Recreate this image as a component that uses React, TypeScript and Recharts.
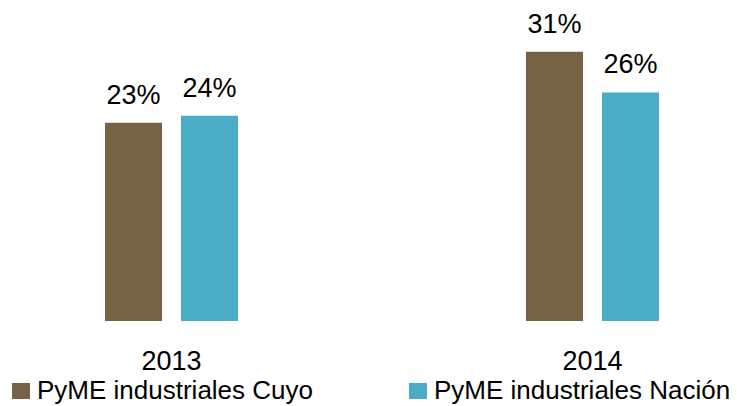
import React from "react";
import { BarChart, Bar, XAxis, YAxis, Legend, LabelList } from "recharts";

const YEARS = ["2013", "2014"];
const CUYO = [22.9, 31.1];
const NACION = [23.7, 26.4];

const SERIES = [
  { key: "cuyo", name: "PyME industriales Cuyo", color: "#766345" },
  { key: "nacion", name: "PyME industriales Nación", color: "#4BACC6" },
];

const FONT = "'Liberation Sans', Arial, sans-serif";

const data = YEARS.map((year, i) => ({ year, cuyo: CUYO[i], nacion: NACION[i] }));

function pct(v: unknown) {
  return `${Math.round(Number(v))}%`;
}

// Legend sits at the page's left edge, so items are placed by hand.
function LegendContent() {
  const lefts = [12, 409];
  return (
    <div style={{ position: "relative", height: 25, fontFamily: FONT }}>
      {SERIES.map((s, i) => (
        <div
          key={s.key}
          style={{ position: "absolute", left: lefts[i], top: 0, display: "flex", alignItems: "center", height: 25 }}
        >
          <span style={{ width: 18, height: 16, background: s.color, marginRight: 7, display: "inline-block" }} />
          <span style={{ fontSize: 26, color: "#000", lineHeight: "25px", whiteSpace: "nowrap" }}>{s.name}</span>
        </div>
      ))}
    </div>
  );
}

export default function App() {
  return (
    <div style={{ position: "fixed", left: 0, top: 0, width: 737, height: 406, overflow: "hidden", background: "#fff" }}>
      <div style={{ position: "absolute", left: -39.5, top: 0 }}>
        <BarChart
          width={842}
          height={406}
          data={data}
          margin={{ top: 18, right: 0, bottom: 0, left: 0 }}
          barGap={19}
        >
          <XAxis
            dataKey="year"
            axisLine={false}
            tickLine={false}
            tickSize={0}
            tickMargin={30}
            height={60}
            tick={{ fontSize: 27, fill: "#000", fontFamily: FONT }}
          />
          <YAxis hide domain={[0, 35]} />
          <Legend
            verticalAlign="bottom"
            content={<LegendContent />}
            wrapperStyle={{ left: 39.5, top: 378, width: 737, height: 25 }}
          />
          {SERIES.map((s) => (
            <Bar key={s.key} dataKey={s.key} name={s.name} fill={s.color} barSize={57} isAnimationActive={false}>
              <LabelList
                dataKey={s.key}
                position="top"
                offset={19}
                formatter={pct}
                style={{ fontSize: 27, fill: "#000", fontFamily: FONT }}
              />
            </Bar>
          ))}
        </BarChart>
      </div>
    </div>
  );
}
